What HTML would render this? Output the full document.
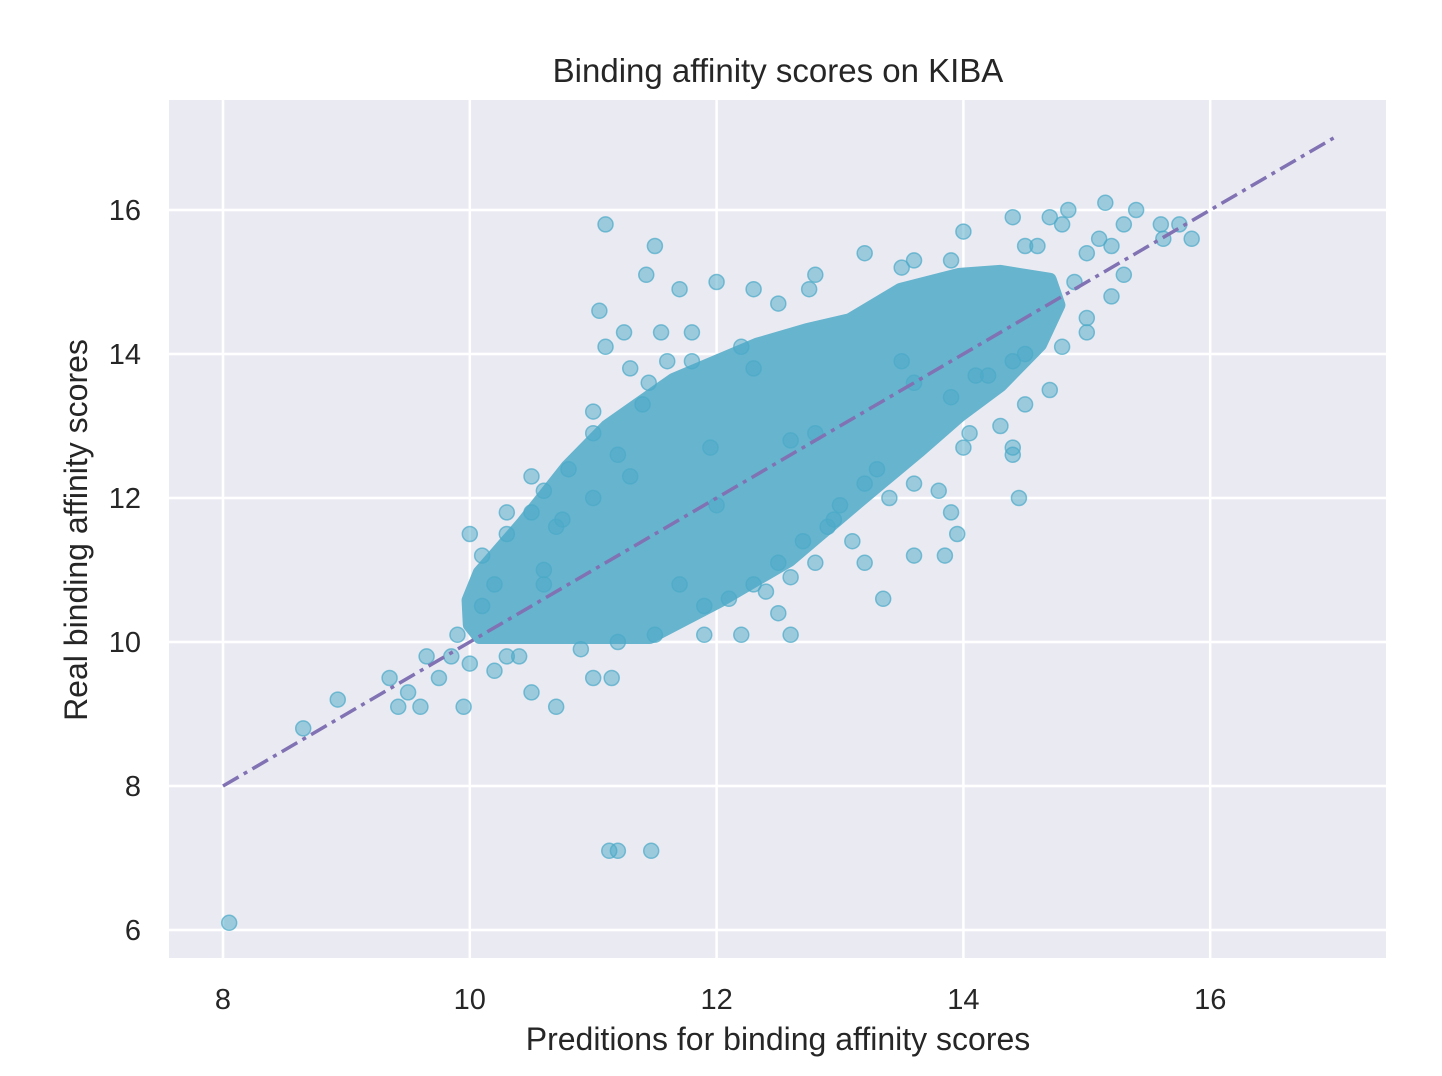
<!DOCTYPE html>
<html><head><meta charset="utf-8"><style>
body{margin:0;background:#fff;}
svg{display:block;font-family:"Liberation Sans","DejaVu Sans",sans-serif;}
</style></head><body>
<svg id="chart" width="1442" height="1076" viewBox="0 0 1442 1076">
<rect x="169" y="100" width="1217" height="858" fill="#eaeaf2"/>
<g id="grid"></g>
<g id="core"></g>
<g id="pts"></g>
<g id="diag"></g>
<g id="ticks"></g>
<text x="778" y="82" text-anchor="middle" font-size="33" fill="#262626">Binding affinity scores on KIBA</text>
<text x="778" y="1050" text-anchor="middle" font-size="32" fill="#262626">Preditions for binding affinity scores</text>
<text transform="translate(87,530) rotate(-90)" text-anchor="middle" font-size="32" fill="#262626">Real binding affinity scores</text>
</svg>
<script>
const xTicks=[8,10,12,14,16];
const yTicks=[6,8,10,12,14,16];
const coreX=[10.00,10.08,11.46,12.03,12.59,13.16,13.65,13.97,14.30,14.62,14.77,14.70,14.30,13.97,13.49,13.08,12.73,12.33,11.65,11.11,10.79,10.43,10.08,9.99];
const coreY=[10.24,10.07,10.07,10.58,11.14,11.97,12.67,13.15,13.57,14.13,14.68,15.03,15.14,15.10,14.89,14.47,14.33,14.13,13.64,12.99,12.43,11.65,10.96,10.58];
const ptX=[8.05,8.65,8.93,9.35,9.42,9.5,9.6,9.65,9.75,9.85,9.9,9.95,10.0,10.1,10.2,10.3,10.4,10.5,10.7,10.9,11.2,11.13,11.47,11.0,11.15,11.2,11.5,11.9,12.2,12.6,12.5,13.35,13.2,13.6,13.85,13.95,14.45,14.4,14.4,14.0,14.05,14.5,14.7,14.8,15.0,15.0,15.2,15.3,15.1,15.0,15.2,15.3,15.4,15.15,15.6,15.75,15.62,15.85,14.85,14.7,14.4,14.5,14.6,14.8,14.0,13.9,13.5,13.6,13.2,12.0,12.3,11.1,11.5,11.43,11.7,11.05,11.1,11.25,11.55,11.8,12.5,12.8,12.75,10.0,10.1,10.3,10.5,10.3,10.5,10.6,10.8,10.7,11.0,11.0,11.2,10.2,11.4,11.3,11.45,11.6,12.3,12.8,12.0,13.6,13.8,13.9,13.0,12.5,12.8,13.2,14.3,13.5,14.9,14.2,14.5,11.7,12.3,12.4,10.75,10.6,11.95,12.7,12.6,11.9,12.1,12.6,13.1,13.4,12.9,11.3,11.0,10.6,11.8,12.2,13.6,13.9,14.1,14.4,13.3,12.95];
const ptY=[6.1,8.8,9.2,9.5,9.1,9.3,9.1,9.8,9.5,9.8,10.1,9.1,9.7,10.5,9.6,9.8,9.8,9.3,9.1,9.9,7.1,7.1,7.1,9.5,9.5,10.0,10.1,10.1,10.1,10.1,10.4,10.6,11.1,11.2,11.2,11.5,12.0,12.6,12.7,12.7,12.9,13.3,13.5,14.1,14.3,14.5,14.8,15.1,15.6,15.4,15.5,15.8,16.0,16.1,15.8,15.8,15.6,15.6,16.0,15.9,15.9,15.5,15.5,15.8,15.7,15.3,15.2,15.3,15.4,15.0,14.9,15.8,15.5,15.1,14.9,14.6,14.1,14.3,14.3,14.3,14.7,15.1,14.9,11.5,11.2,11.5,11.8,11.8,12.3,12.1,12.4,11.6,13.2,12.9,12.6,10.8,13.3,13.8,13.6,13.9,13.8,12.9,11.9,12.2,12.1,11.8,11.9,11.1,11.1,12.2,13.0,13.9,15.0,13.7,14.0,10.8,10.8,10.7,11.7,11.0,12.7,11.4,12.8,10.5,10.6,10.9,11.4,12.0,11.6,12.3,12.0,10.8,13.9,14.1,13.6,13.4,13.7,13.9,12.4,11.7];
const lineStart=[8,8], lineEnd=[17,17];
const NS='http://www.w3.org/2000/svg';
const X=v=>223+(v-8)*123.4;
const Y=v=>786-(v-8)*72;
function mk(tag,attrs,parent){const e=document.createElementNS(NS,tag);for(const k in attrs)e.setAttribute(k,attrs[k]);document.getElementById(parent).appendChild(e);return e;}
xTicks.forEach(t=>{
 const l=mk('line',{x1:X(t),x2:X(t),y1:100,y2:958,stroke:'#fff','stroke-width':2.5},'grid');
 
 
 const tx=mk('text',{x:X(t),y:1009,'text-anchor':'middle','font-size':29,fill:'#262626'},'ticks');
 tx.textContent=t;
 
 
});
yTicks.forEach(t=>{
 const l=mk('line',{x1:169,x2:1386,y1:Y(t),y2:Y(t),stroke:'#fff','stroke-width':2.5},'grid');
 
 
 const tx=mk('text',{x:141,y:Y(t)+10,'text-anchor':'end','font-size':29,fill:'#262626'},'ticks');
 tx.textContent=t;
 
 
});
const poly=mk('polygon',{points:coreX.map((x,i)=>X(x)+','+Y(coreY[i])).join(' '),fill:'#66b4ce',stroke:'#66b4ce','stroke-width':14,'stroke-linejoin':'round'},'core');


ptX.forEach((x,i)=>{
 const c=mk('circle',{cx:X(x),cy:Y(ptY[i]),r:7.5,fill:'rgba(76,170,200,0.5)',stroke:'rgba(76,170,200,0.7)','stroke-width':1.5},'pts');
 
 
});
const d=mk('line',{x1:X(lineStart[0]),y1:Y(lineStart[1]),x2:X(lineEnd[0]),y2:Y(lineEnd[1]),stroke:'#8172b3','stroke-width':3.5,'stroke-dasharray':'18,6,4,6'},'diag');


</script>
</body></html>
